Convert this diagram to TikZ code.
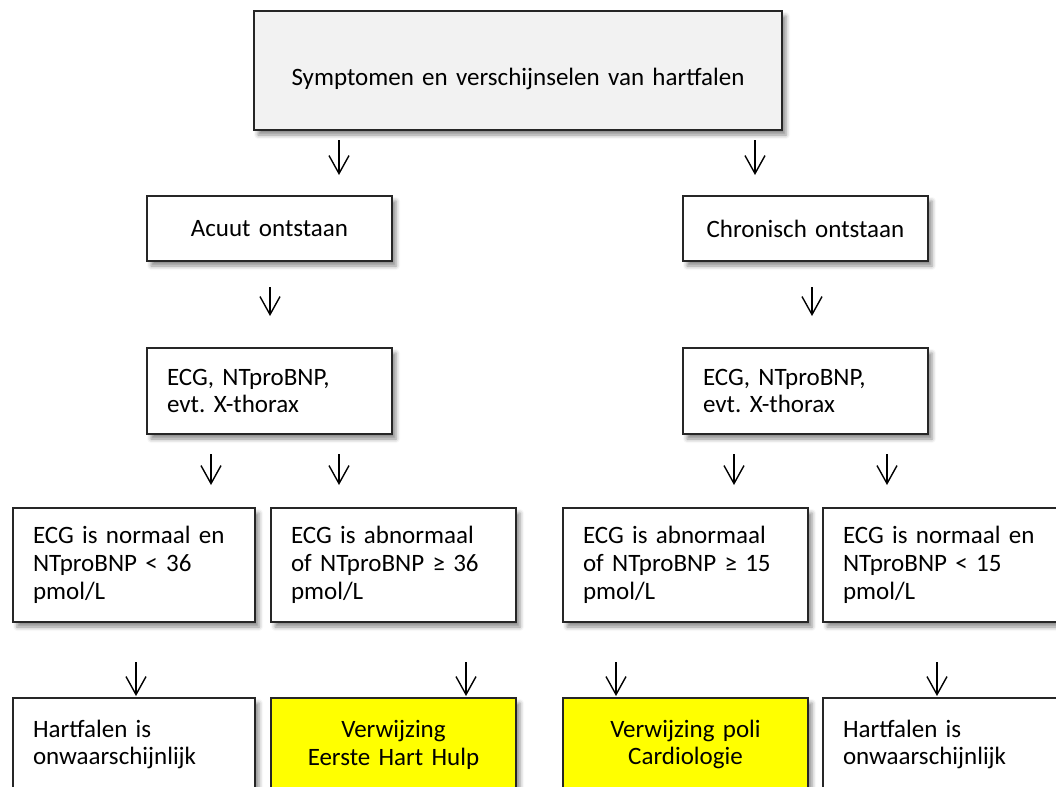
\documentclass[tikz,border=0pt]{standalone}
\usepackage{fontspec}
\setmainfont{Carlito}
\frenchspacing
\usetikzlibrary{arrows.meta,shadows.blur}
\definecolor{boxgray}{HTML}{F2F2F2}
\definecolor{boxyellow}{HTML}{FFFF00}
\tikzset{
	stepbox/.style={draw=black!85, line width=1pt, fill=white, anchor=north west,
		inner xsep=10pt, inner ysep=1pt, text width=102.5pt,
		blur shadow={shadow xshift=2pt, shadow yshift=-2.5pt, shadow blur radius=2pt, shadow opacity=45}},
	leftbox/.style={stepbox, align=left},
	midbox/.style={stepbox, align=center},
	refbox/.style={midbox, fill=boxyellow},
	arr/.style={-{Straight Barb[length=9pt,width=10pt]}, line width=0.7pt},
}
\begin{document}
\begin{tikzpicture}[x=0.5pt, y=-0.5pt, font=\fontsize{12.5pt}{13.95pt}\selectfont]
	\clip (0,0) rectangle (1056,787);
	\node[midbox, fill=boxgray, text width=244pt, minimum height=59.5pt] (sym) at (253,10) {\raisebox{-4pt}[\height][\depth]{Symptomen en verschijnselen van hartfalen}};
	\node[midbox, minimum height=32.5pt] (acu) at (146,195) {Acuut ontstaan};
	\node[midbox, minimum height=32.5pt] (chr) at (682,195) {Chronisch ontstaan};
	\node[leftbox, minimum height=43pt] (ecga) at (146,347) {ECG, NTproBNP,\\evt. X-thorax};
	\node[leftbox, minimum height=43pt] (ecgc) at (682,347) {ECG, NTproBNP,\\evt. X-thorax};
	\node[leftbox, text width=101pt, minimum height=57pt] (nrma) at (12,507) {ECG is normaal en\\NTproBNP < 36\\pmol/L};
	\node[leftbox, minimum height=57pt] (abna) at (270,507) {ECG is abnormaal\\of NTproBNP ≥ 36\\pmol/L};
	\node[leftbox, minimum height=57pt] (abnc) at (562,507) {ECG is abnormaal\\of NTproBNP ≥ 15\\pmol/L};
	\node[leftbox, minimum height=57pt] (nrmc) at (822,507) {ECG is normaal en\\NTproBNP < 15\\pmol/L};
	\node[leftbox, text width=101pt, minimum height=46.5pt] (onwa) at (12,697) {Hartfalen is\\onwaarschijnlijk};
	\node[refbox, minimum height=46.5pt] (ehh) at (270,697) {Verwijzing\\Eerste Hart Hulp};
	\node[refbox, minimum height=46.5pt] (poli) at (562,697) {Verwijzing poli\\Cardiologie};
	\node[leftbox, minimum height=46.5pt] (onwc) at (822,697) {Hartfalen is\\onwaarschijnlijk};
	\draw[arr, shorten <=4.5pt, shorten >=10pt] (sym.south -| 339,0) -- (acu.north -| 339,0);
	\draw[arr, shorten <=4.5pt, shorten >=10pt] (sym.south -| 755,0) -- (chr.north -| 755,0);
	\draw[arr, shorten <=12.5pt, shorten >=15.5pt] (acu.south -| 270,0) -- (ecga.north -| 270,0);
	\draw[arr, shorten <=12.5pt, shorten >=15.5pt] (chr.south -| 812,0) -- (ecgc.north -| 812,0);
	\draw[arr, shorten <=9.5pt, shorten >=11pt] (ecga.south -| 211,0) -- (nrma.north -| 211,0);
	\draw[arr, shorten <=9.5pt, shorten >=11pt] (ecga.south -| 339,0) -- (abna.north -| 339,0);
	\draw[arr, shorten <=9.5pt, shorten >=11pt] (ecgc.south -| 734,0) -- (abnc.north -| 734,0);
	\draw[arr, shorten <=9.5pt, shorten >=11pt] (ecgc.south -| 887,0) -- (nrmc.north -| 887,0);
	\draw[arr, shorten <=19.5pt, shorten >=0.5pt] (nrma.south -| 136,0) -- (onwa.north -| 136,0);
	\draw[arr, shorten <=19.5pt, shorten >=0.5pt] (abna.south -| 466,0) -- (ehh.north -| 466,0);
	\draw[arr, shorten <=19.5pt, shorten >=0.5pt] (abnc.south -| 616,0) -- (poli.north -| 616,0);
	\draw[arr, shorten <=19.5pt, shorten >=0.5pt] (nrmc.south -| 937,0) -- (onwc.north -| 937,0);
\end{tikzpicture}
\end{document}
